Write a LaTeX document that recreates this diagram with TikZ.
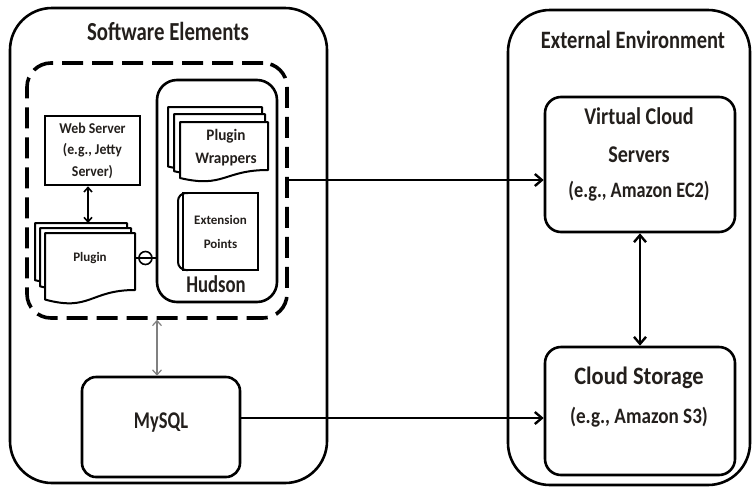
\documentclass[tikz,border=0pt]{standalone}
\usepackage{fontspec}
\setmainfont{Carlito}
\usetikzlibrary{arrows.meta,calc}
\definecolor{txt}{HTML}{231F1C}
\newcommand\docsheet[4]{%
  \pgfmathsetmacro\dsmid{(#1+#3)/2}%
  \pgfmathsetmacro\dsa{#4+0.384*(#4-#2)}%
  \pgfmathsetmacro\dsb{#4+0.167*(#4-#2)}%
  \filldraw[sheet] (#1,#2) -- (#3,#2) -- (#3,#4) .. controls (\dsmid,#4) and (\dsmid,\dsa) .. (#1,\dsb) -- cycle;}
\newcommand\fs[1]{\fontsize{#1}{#1}\selectfont}
\newcommand\sq[2]{\scalebox{#1}[1]{#2}}
\begin{document}
\begin{tikzpicture}[x=1pt,y=-1pt,
  every node/.style={font=\bfseries, text=txt},
  outer/.style={draw, line width=2.6pt, rounded corners=42pt, inner sep=0pt},
  rbox/.style={draw, line width=2.6pt, rounded corners=#1, inner sep=0pt},
  dashbox/.style={draw, line width=3.6pt, dash pattern=on 21pt off 9pt, rounded corners=24pt, inner sep=0pt},
  sheet/.style={draw, fill=white, line width=2pt, line join=round},
  arr/.style={line width=2.4pt, -{Straight Barb[length=7pt,width=12pt]}},
  darr/.style={line width=2.4pt, {Straight Barb[length=7pt,width=12pt]}-{Straight Barb[length=7pt,width=12pt]}},
  sarr/.style={line width=1.6pt, {Straight Barb[length=4.5pt,width=8pt]}-{Straight Barb[length=4.5pt,width=8pt]}},
  garr/.style={line width=1.2pt, draw=gray, {Straight Barb[length=5pt,width=9pt]}-{Straight Barb[length=5pt,width=9pt]}},
  lbl/.style={inner sep=0pt, align=center}
]
\useasboundingbox (0,0) rectangle (752,488);

% outer containers
\node[outer, minimum width=317pt, minimum height=475pt] (sw) at (168.5,245.5) {};
\node[lbl, font=\bfseries\fs{26}] (swt) at (168,31) {\sq{0.8}{Software Elements}};
\node[outer, minimum width=242pt, minimum height=475pt] (ext) at (629,247.5) {};
\node[lbl, font=\bfseries\fs{25}] (extt) at (633,40) {\sq{0.82}{External Environment}};

% dashed group
\node[dashbox, minimum width=260pt, minimum height=255pt] (dash) at (157,190.5) {};

% Hudson
\node[rbox=20pt, minimum width=120pt, minimum height=222pt] (hud) at (217,191) {};
\node[lbl, font=\bfseries\fs{24}] (hudt) at (216,284) {\sq{0.78}{Hudson}};

% Web server
\node[rbox=0pt, minimum width=95pt, minimum height=69pt, align=center, font=\bfseries\fontsize{15}{21.5}\selectfont] (web) at (92.5,150.5) {\sq{0.92}{Web Server}\\\sq{0.92}{(e.g., Jetty}\\\sq{0.92}{Server)}};

% Plugin stack
\docsheet{35}{223}{127}{272}
\docsheet{40}{228}{131}{278}
\docsheet{45}{233}{135}{290}
\node[lbl, font=\bfseries\fs{13}, minimum width=90pt, minimum height=50pt] (plugin) at (90,258) {Plugin};

% Plugin wrappers stack
\docsheet{168}{107}{262}{158}
\docsheet{174}{114}{265}{163}
\docsheet{180}{122}{268}{170}
\node[lbl, font=\bfseries\fontsize{16}{23}\selectfont] (pw) at (226,148) {\sq{0.95}{Plugin}\\\sq{0.95}{Wrappers}};

% Extension points
\draw[line width=2pt, rounded corners=8pt] (188,193) -- (178,193) -- (178,270) -- (188,270);
\node[draw, line width=2pt, minimum width=75pt, minimum height=77pt, inner sep=0pt, align=center, font=\bfseries\fontsize{13}{24}\selectfont] (extp) at (220.5,231.5) {Extension\\Points};

% Plugin - Hudson connector
\draw[line width=1.6pt] (plugin.east) -- (plugin.east -| hud.west);
\node[circle, draw, line width=1.6pt, minimum size=13pt, inner sep=0pt] (joint) at ($(plugin.east)!0.5!(plugin.east -| hud.west)$) {};
\draw[line width=1.6pt] (joint.west) -- (joint.east);

% MySQL
\node[rbox=14pt, minimum width=158pt, minimum height=100pt] (mysql) at (161,427) {};
\node[lbl, font=\bfseries\fs{24}] (mysqlt) at (161,423) {\sq{0.77}{MySQL}};

% Virtual cloud servers
\node[rbox=16pt, minimum width=190pt, minimum height=135pt] (vcs) at (640,164.5) {};
\node[lbl, font=\bfseries\fs{24}] (vcs1) at (639,116) {\sq{0.84}{Virtual Cloud}};
\node[lbl, font=\bfseries\fs{24}] (vcs2) at (639,155) {\sq{0.84}{Servers}};
\node[lbl, font=\bfseries\fs{22}] (vcs3) at (639,191) {\sq{0.83}{(e.g., Amazon EC2)}};

% Cloud storage
\node[rbox=16pt, minimum width=190pt, minimum height=128pt] (cs) at (640,411) {};
\node[lbl, font=\bfseries\fs{25}] (cs1) at (639,378) {\sq{0.9}{Cloud Storage}};
\node[lbl, font=\bfseries\fs{22}] (cs2) at (639,417) {\sq{0.87}{(e.g., Amazon S3)}};

% connectors
\coordinate (ptop) at (88,223);
\draw[sarr] (web.south -| ptop) -- (ptop);
\coordinate (dout) at (286,180);
\draw[arr] (dout) -- (dout -| vcs.west);
\coordinate (m418) at (0,418);
\draw[arr] (mysql.east |- m418) -- (cs.west |- m418);
\draw[darr] (vcs.south) -- (cs.north);
\draw[garr] (dash.south) -- (dash.south |- mysql.north);
\end{tikzpicture}
\end{document}
